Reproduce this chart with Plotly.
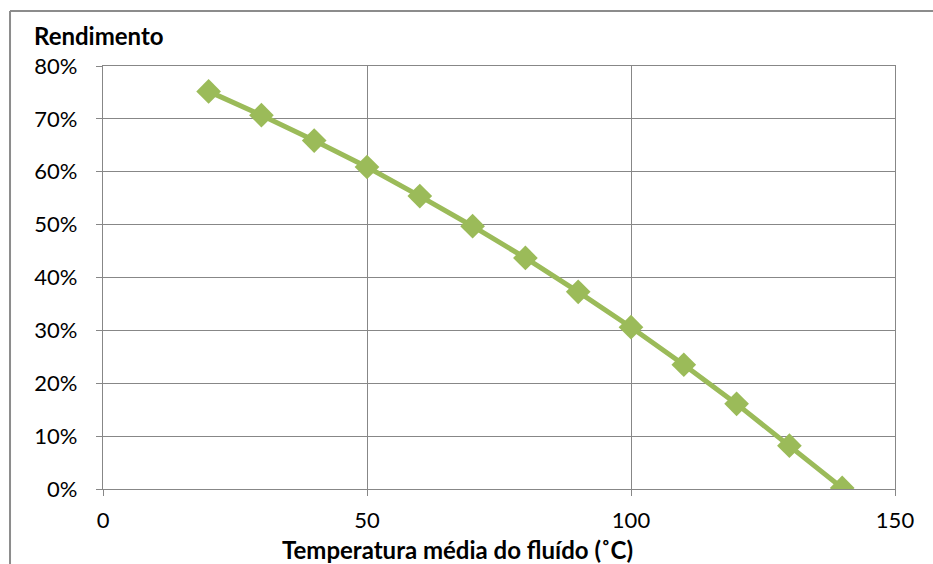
import plotly.graph_objects as go

temperatura = [20, 30, 40, 50, 60, 70, 80, 90, 100, 110, 120, 130, 140]
rendimento = [0.752, 0.707, 0.659, 0.609, 0.554, 0.497, 0.437, 0.373, 0.306, 0.235, 0.161, 0.082, 0.002]

x_title = "Temperatura média do fluído (˚C)"
y_title = "Rendimento"

FONT = "Lato, Calibri, Carlito, sans-serif"
GRID = "#878787"

fig = go.Figure()
fig.add_trace(go.Scatter(
    x=temperatura, y=rendimento, mode="lines+markers",
    line=dict(color="#9BBB59", width=5),
    marker=dict(symbol="diamond", size=19, color="#9BBB59"),
    showlegend=False, hoverinfo="x+y",
))

fig.update_layout(
    width=933, height=564,
    margin=dict(l=103, r=38, t=66, b=75),
    paper_bgcolor="white", plot_bgcolor="white",
    font=dict(family=FONT, size=22, color="#000000"),
    xaxis=dict(range=[0, 150], dtick=50, tick0=0, showgrid=True, gridcolor=GRID, gridwidth=1.3,
               showline=True, linecolor=GRID, linewidth=1.3, mirror=True,
               ticks="outside", ticklen=6, tickcolor=GRID, tickwidth=1.3,
               ticklabelstandoff=5, zeroline=False),
    yaxis=dict(range=[0, 0.8], dtick=0.1, tick0=0, tickformat=".0%", showgrid=True, gridcolor=GRID, gridwidth=1.3,
               showline=True, linecolor=GRID, linewidth=1.3, mirror=True,
               ticks="outside", ticklen=6, tickcolor=GRID, tickwidth=1.3,
               ticklabelstandoff=14, zeroline=False),
    annotations=[
        dict(text="<b>" + y_title + "</b>", xref="paper", yref="paper", x=-0.0896, y=1.072,
             xanchor="left", yanchor="middle", showarrow=False, font=dict(size=24, family=FONT)),
        dict(text="<b>" + x_title + "</b>", xref="paper", yref="paper", x=0.448, y=-0.142,
             xanchor="center", yanchor="middle", showarrow=False, font=dict(size=24, family=FONT)),
    ],
    shapes=[
        dict(type="line", xref="paper", yref="paper", x0=-0.1174, x1=1.2, y0=1.130, y1=1.130,
             line=dict(color="#8c8c8c", width=2)),
        dict(type="line", xref="paper", yref="paper", x0=-0.1174, x1=-0.1174, y0=1.130, y1=-0.3,
             line=dict(color="#8c8c8c", width=2)),
    ],
)

fig.write_html("out.html", config={"displayModeBar": False},
               post_script="document.body.style.margin='0';document.body.style.overflow='hidden';")
